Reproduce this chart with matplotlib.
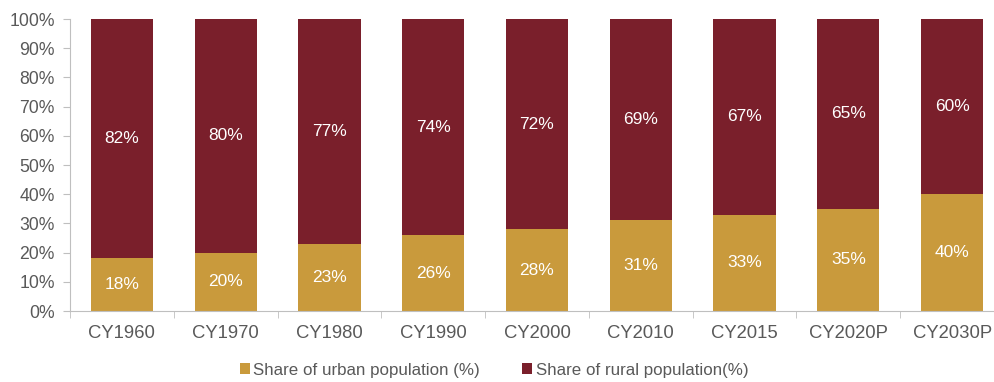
import numpy as np
import matplotlib.pyplot as plt

plt.rcParams['font.family'] = ['Liberation Sans', 'DejaVu Sans']

years = ['CY1960', 'CY1970', 'CY1980', 'CY1990', 'CY2000', 'CY2010', 'CY2015', 'CY2020P', 'CY2030P']
urban = [18, 20, 23, 26, 28, 31, 33, 35, 40]
rural = [82, 80, 77, 74, 72, 69, 67, 65, 60]

gold = '#C99A3C'
maroon = '#7A1F2B'
grey = '#595959'

fig = plt.figure(figsize=(9.95, 3.82), dpi=100)
ax = fig.add_axes([70 / 995, 71 / 382, 934 / 995, 292 / 382])

x = np.arange(len(years))
b1 = ax.bar(x, urban, width=0.6, color=gold, label='Share of urban population (%)')
b2 = ax.bar(x, rural, width=0.6, bottom=urban, color=maroon, label='Share of rural population(%)')

for i in range(len(years)):
    ax.text(x[i], urban[i] / 2, f'{urban[i]}%', ha='center', va='center', color='white', fontsize=12.5)
    ax.text(x[i], urban[i] + rural[i] / 2, f'{rural[i]}%', ha='center', va='center', color='white', fontsize=12.5)

ax.set_xlim(-0.5, len(years) - 0.5)
ax.set_ylim(0, 100)
ax.set_yticks(np.arange(0, 101, 10))
ax.set_yticklabels([f'{v}%' for v in range(0, 101, 10)])
ax.set_xticks(x)
ax.set_xticklabels(years)
ax.set_xticks(np.arange(-0.5, len(years), 1), minor=True)
ax.tick_params(axis='x', which='major', length=0, pad=10, labelsize=13.3, labelcolor=grey)
ax.tick_params(axis='x', which='minor', length=5, color='#BFBFBF')
ax.tick_params(axis='y', length=5, color='#BFBFBF', labelsize=12.7, labelcolor=grey, pad=6)

for s in ['top', 'right']:
    ax.spines[s].set_visible(False)
for s in ['left', 'bottom']:
    ax.spines[s].set_color('#BFBFBF')

fig.legend(handles=[b1, b2], loc='center', bbox_to_anchor=(494 / 995, 12 / 382), ncol=2,
           frameon=False, fontsize=12.2, handlelength=0.6, handleheight=0.6,
           handletextpad=0.2, columnspacing=2.5, labelcolor=grey)

fig.savefig('out.png', dpi=100)
